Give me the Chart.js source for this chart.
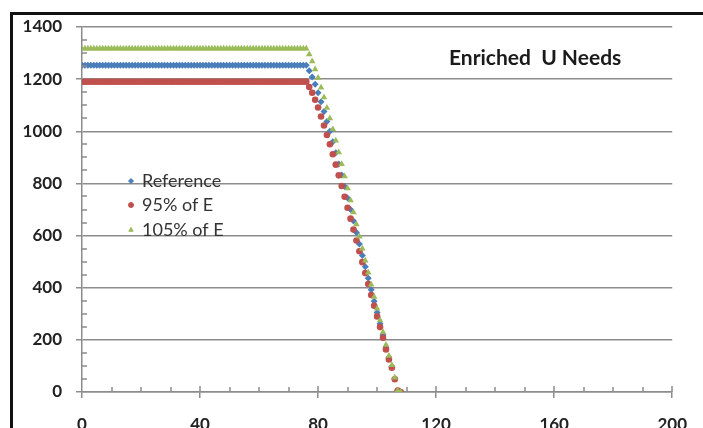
<!DOCTYPE html>
<html>
<head>
  <title>Enriched U Needs</title>
  <script src="https://cdn.jsdelivr.net/npm/chart.js"></script>
  <style>
    body { margin: 0; background: #fff; }
    #frame { position: absolute; left: 10px; top: 12px; width: 720px; height: 440px; border: 3px solid #111; }
    #needsChart { position: absolute; left: 0; top: 0; }
  </style>
</head>
<body>
  <div id="frame"></div>
  <canvas id="needsChart" width="703" height="428"></canvas>

  <script>
    // x positions of the points (same for all three series)
    const xValues = [
      0, 1, 2, 3, 4, 5, 6, 7, 8, 9, 10, 11, 12, 13, 14, 15, 16, 17, 18, 19,
      20, 21, 22, 23, 24, 25, 26, 27, 28, 29, 30, 31, 32, 33, 34, 35, 36, 37, 38, 39,
      40, 41, 42, 43, 44, 45, 46, 47, 48, 49, 50, 51, 52, 53, 54, 55, 56, 57, 58, 59,
      60, 61, 62, 63, 64, 65, 66, 67, 68, 69, 70, 71, 72, 73, 74, 75, 76, 77, 78, 79,
      80, 81, 82, 83, 84, 85, 86, 87, 88, 89, 90, 91, 92, 93, 94, 95, 96, 97, 98, 99,
      100, 101, 102, 103, 104, 105, 106, 107, 108
    ];

    const referenceValues = [
      1253, 1253, 1253, 1253, 1253, 1253, 1253, 1253, 1253, 1253, 1253,
      1253, 1253, 1253, 1253, 1253, 1253, 1253, 1253, 1253, 1253, 1253,
      1253, 1253, 1253, 1253, 1253, 1253, 1253, 1253, 1253, 1253, 1253,
      1253, 1253, 1253, 1253, 1253, 1253, 1253, 1253, 1253, 1253, 1253,
      1253, 1253, 1253, 1253, 1253, 1253, 1253, 1253, 1253, 1253, 1253,
      1253, 1253, 1253, 1253, 1253, 1253, 1253, 1253, 1253, 1253, 1253,
      1253, 1253, 1253, 1253, 1253, 1253, 1253, 1253, 1253, 1253, 1253,
      1232, 1208, 1180, 1148, 1113, 1076, 1038, 1000, 960, 918, 875,
      832, 788, 744, 700, 656, 612, 568, 524, 480, 436, 392,
      348, 305, 262, 219, 172, 132, 98, 52, 6, 0
    ];

    const e95Values = [
      1190, 1190, 1190, 1190, 1190, 1190, 1190, 1190, 1190, 1190, 1190,
      1190, 1190, 1190, 1190, 1190, 1190, 1190, 1190, 1190, 1190, 1190,
      1190, 1190, 1190, 1190, 1190, 1190, 1190, 1190, 1190, 1190, 1190,
      1190, 1190, 1190, 1190, 1190, 1190, 1190, 1190, 1190, 1190, 1190,
      1190, 1190, 1190, 1190, 1190, 1190, 1190, 1190, 1190, 1190, 1190,
      1190, 1190, 1190, 1190, 1190, 1190, 1190, 1190, 1190, 1190, 1190,
      1190, 1190, 1190, 1190, 1190, 1190, 1190, 1190, 1190, 1190, 1190,
      1170, 1148, 1121, 1091, 1057, 1022, 986, 950, 912, 872, 831,
      790, 749, 707, 665, 623, 581, 540, 498, 456, 414, 372,
      331, 290, 249, 208, 163, 125, 93, 49, 6, 0
    ];

    const e105Values = [
      1317, 1317, 1317, 1317, 1317, 1317, 1317, 1317, 1317, 1317, 1317,
      1317, 1317, 1317, 1317, 1317, 1317, 1317, 1317, 1317, 1317, 1317,
      1317, 1317, 1317, 1317, 1317, 1317, 1317, 1317, 1317, 1317, 1317,
      1317, 1317, 1317, 1317, 1317, 1317, 1317, 1317, 1317, 1317, 1317,
      1317, 1317, 1317, 1317, 1317, 1317, 1317, 1317, 1317, 1317, 1317,
      1317, 1317, 1317, 1317, 1317, 1317, 1317, 1317, 1317, 1317, 1317,
      1317, 1317, 1317, 1317, 1317, 1317, 1317, 1317, 1317, 1317, 1317,
      1295, 1268, 1238, 1205, 1168, 1130, 1090, 1050, 1008, 964, 919,
      874, 827, 781, 735, 689, 643, 596, 550, 504, 458, 412,
      365, 320, 275, 230, 181, 139, 103, 55, 6, 0
    ];

    const seriesLabels = ['Reference', '95% of E', '105% of E'];
    const chartTitle = 'Enriched  U Needs';

    const axisGray = '#8c8c8c';

    function toPoints(values) {
      return values.map((v, i) => ({ x: xValues[i], y: v }));
    }

    // minor ticks, title and the in-plot legend
    const overlayPlugin = {
      id: 'overlay',
      afterDatasetsDraw(chart) {
        const ctx = chart.ctx;
        const area = chart.chartArea;
        const xs = chart.scales.x;
        const ys = chart.scales.y;

        ctx.save();
        ctx.strokeStyle = axisGray;
        ctx.lineWidth = 1.5;
        ctx.beginPath();
        for (let v = 10; v <= 200; v += 10) {
          const px = Math.round(xs.getPixelForValue(v));
          const len = v % 40 === 0 ? 6 : 5;
          ctx.moveTo(px, area.bottom);
          ctx.lineTo(px, area.bottom - len);
        }
        for (let v = 50; v < 1400; v += 50) {
          if (v % 200 === 0) continue;
          const py = Math.round(ys.getPixelForValue(v));
          ctx.moveTo(area.left, py);
          ctx.lineTo(area.left + 5, py);
        }
        ctx.stroke();

        // title
        ctx.fillStyle = '#1a1a1a';
        ctx.font = 'bold 21px Lato';
        ctx.textAlign = 'left';
        ctx.textBaseline = 'middle';
        ctx.fillText(chartTitle, 449, 58);

        // legend
        ctx.font = '18px Lato';
        const legendY = [181, 205, 230];
        chart.data.datasets.forEach((ds, i) => {
          ctx.fillStyle = ds.backgroundColor;
          ctx.strokeStyle = ds.backgroundColor;
          ctx.lineWidth = 1;
          Chart.helpers.drawPoint(ctx, { pointStyle: ds.pointStyle, radius: 2.5, rotation: 0, borderWidth: 1 }, 131, legendY[i]);
          ctx.fillStyle = '#333';
          ctx.fillText(seriesLabels[i], 142, legendY[i]);
        });
        ctx.restore();
      }
    };

    new Chart(document.getElementById('needsChart'), {
      type: 'scatter',
      data: {
        datasets: [
          {
            label: seriesLabels[0],
            data: toPoints(referenceValues),
            pointStyle: 'rectRot',
            pointRadius: 3.5,
            backgroundColor: '#4a7ebb',
            borderColor: '#4a7ebb',
            borderWidth: 0,
            order: 3
          },
          {
            label: seriesLabels[1],
            data: toPoints(e95Values),
            pointStyle: 'circle',
            pointRadius: 3.3,
            backgroundColor: '#c0504d',
            borderColor: '#c0504d',
            borderWidth: 0,
            order: 2
          },
          {
            label: seriesLabels[2],
            data: toPoints(e105Values),
            pointStyle: 'triangle',
            pointRadius: 3.8,
            backgroundColor: '#9bbb59',
            borderColor: '#9bbb59',
            borderWidth: 0,
            order: 1
          }
        ]
      },
      options: {
        responsive: false,
        animation: false,
        layout: {
          padding: { left: 0, right: 23, top: 27, bottom: 0 }
        },
        plugins: {
          legend: { display: false },
          tooltip: { enabled: false }
        },
        scales: {
          x: {
            type: 'linear',
            min: 0,
            max: 200,
            afterFit: scale => { scale.height = 36; },
            ticks: {
              stepSize: 40,
              padding: 16,
              color: '#222',
              callback: v => String(v),
              font: { family: 'Lato', size: 17, weight: 'bold' }
            },
            grid: {
              drawOnChartArea: false,
              color: axisGray,
              lineWidth: 1.5,
              tickLength: 6
            },
            border: { color: axisGray, width: 1.5 }
          },
          y: {
            min: 0,
            max: 1400,
            afterFit: scale => { scale.width = 82; },
            ticks: {
              stepSize: 200,
              padding: 14,
              color: '#222',
              callback: v => String(v),
              font: { family: 'Lato', size: 17, weight: 'bold' }
            },
            grid: {
              color: axisGray,
              lineWidth: 1.5,
              tickLength: 6
            },
            border: { color: axisGray, width: 1.5 }
          }
        }
      },
      plugins: [overlayPlugin]
    });
  </script>
</body>
</html>
